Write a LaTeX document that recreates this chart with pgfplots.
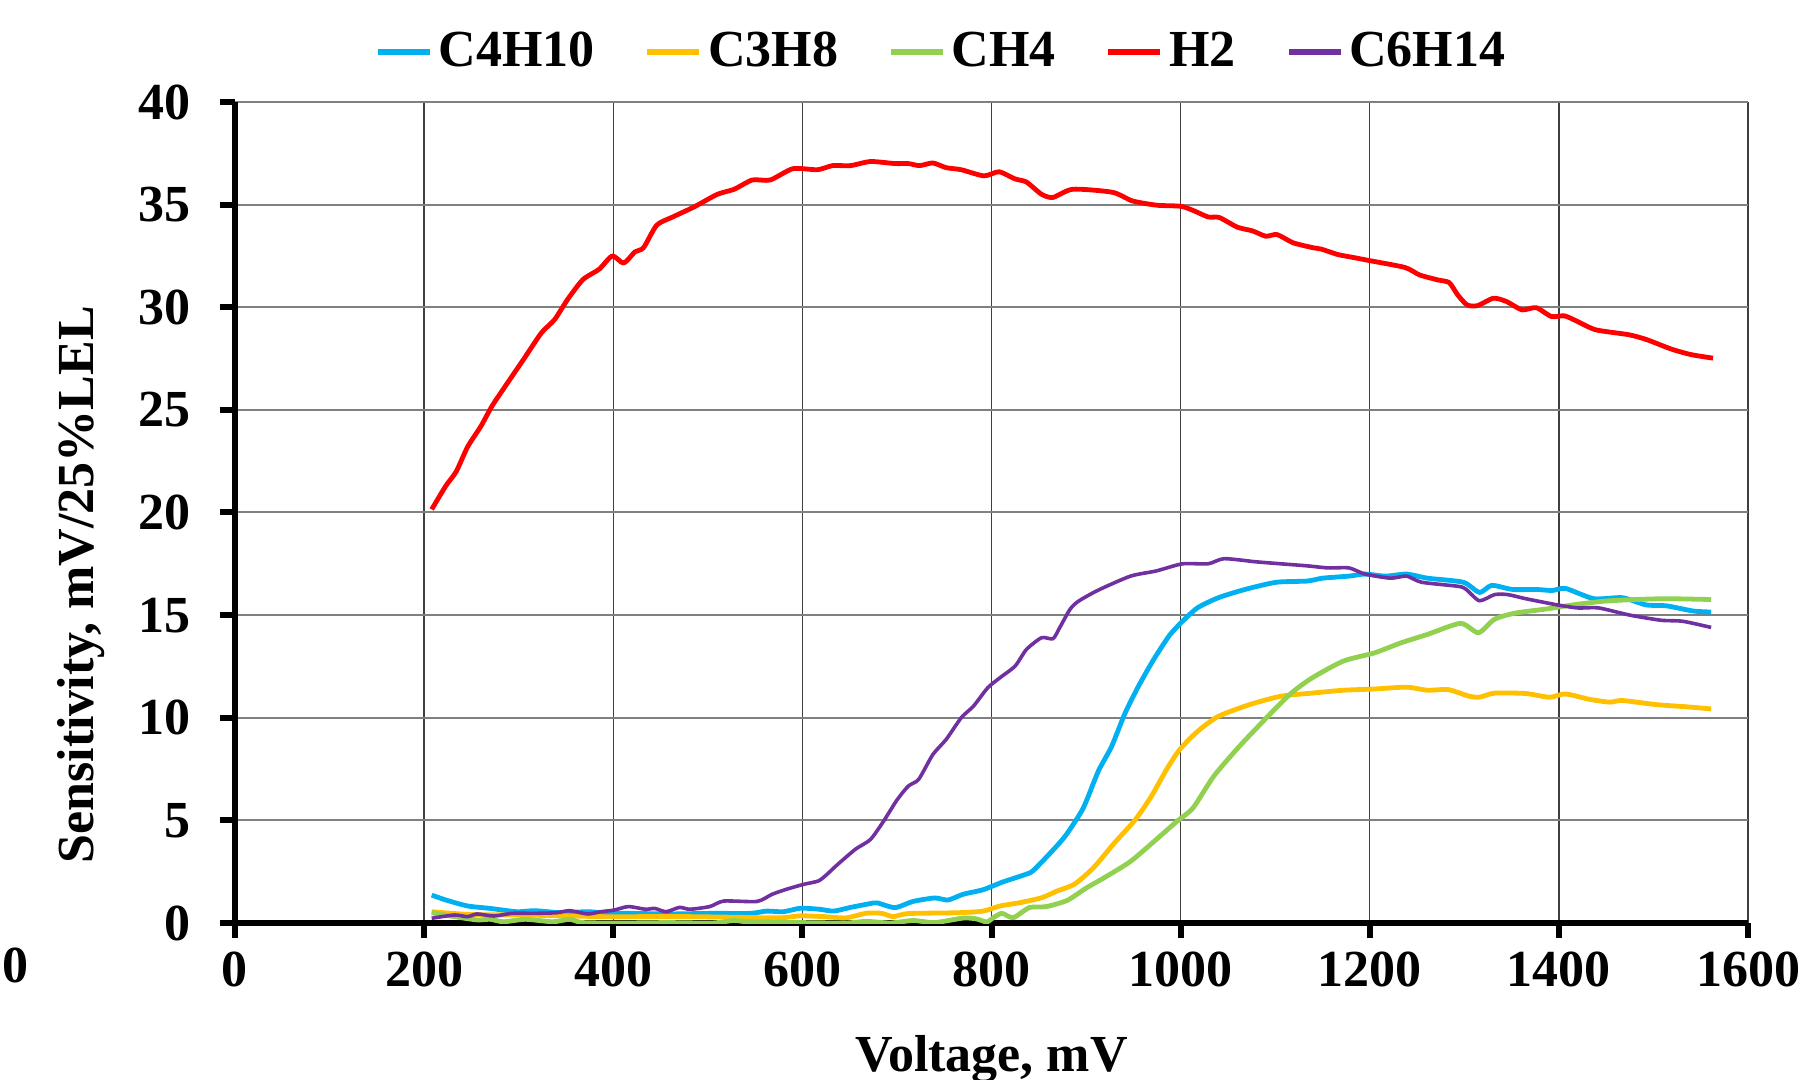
\documentclass[border=0pt]{standalone}
\usepackage{fontspec}
\setmainfont{Liberation Serif}
\usepackage{pgfplots}
\pgfplotsset{compat=1.18}
\definecolor{cbutane}{HTML}{00B0F0}
\definecolor{cpropane}{HTML}{FFC000}
\definecolor{cmethane}{HTML}{92D050}
\definecolor{chydro}{HTML}{FF0000}
\definecolor{chexane}{HTML}{7030A0}
\newcommand{\chartfont}{\fontsize{13}{15}\selectfont\bfseries}

\pgfplotstableread{
x y
208 1.36
223 1.12
246 0.83
270 0.71
298 0.55
317 0.60
345 0.50
373 0.55
397 0.47
420 0.47
458 0.44
505 0.47
545 0.47
562 0.58
580 0.55
598 0.72
618 0.67
633 0.58
650 0.75
670 0.93
679 0.98
698 0.75
717 1.05
740 1.22
754 1.12
770 1.40
791 1.62
812 2.0
835 2.35
844 2.55
865 3.55
879 4.3
897 5.6
913 7.4
927 8.6
941 10.2
955 11.5
971 12.8
988 14.0
1002 14.7
1018 15.36
1040 15.85
1068 16.25
1101 16.6
1134 16.66
1150 16.8
1178 16.9
1195 17.0
1217 16.9
1239 17.0
1261 16.8
1299 16.6
1316 16.1
1329 16.45
1351 16.25
1376 16.25
1393 16.2
1407 16.3
1437 15.8
1467 15.85
1492 15.5
1514 15.45
1542 15.2
1561 15.15
}\butane

\pgfplotstableread{
x y
208 0.55
246 0.42
293 0.39
340 0.36
387 0.31
434 0.31
481 0.31
528 0.28
576 0.25
598 0.35
623 0.31
646 0.25
668 0.48
684 0.47
696 0.31
712 0.46
764 0.50
791 0.58
809 0.83
830 0.99
853 1.23
869 1.55
888 1.9
908 2.7
930 3.9
952 5.03
969 6.17
985 7.47
999 8.45
1018 9.34
1040 10.07
1073 10.64
1106 11.05
1139 11.2
1172 11.34
1205 11.4
1239 11.49
1261 11.34
1283 11.37
1305 11.05
1316 11.0
1332 11.2
1365 11.18
1390 11.0
1407 11.16
1432 10.9
1454 10.76
1467 10.84
1503 10.64
1536 10.53
1561 10.43
}\propane

\pgfplotstableread{
x y
208 0.50
232 0.31
256 0.15
270 0.18
284 0.06
307 0.18
336 0.06
354 0.18
368 0.02
411 0.0
458 0.02
505 0.0
527 0.12
543 0.06
599 0.02
646 0.0
668 0.08
693 0.0
717 0.12
740 0.02
770 0.24
784 0.2
795 0.05
802 0.26
811 0.47
823 0.26
840 0.75
858 0.80
880 1.1
900 1.7
919 2.2
947 3.0
974 4.06
996 4.95
1013 5.6
1035 7.15
1062 8.6
1095 10.2
1117 11.2
1139 11.94
1172 12.76
1205 13.16
1233 13.65
1261 14.06
1296 14.6
1315 14.14
1332 14.8
1354 15.1
1387 15.3
1415 15.5
1448 15.68
1481 15.76
1514 15.8
1561 15.76
}\methane

\pgfplotstableread{
x y
208 20.15
223 21.3
234 22.0
246 23.2
260 24.2
272 25.2
288 26.3
305 27.45
324 28.75
338 29.4
352 30.4
368 31.35
385 31.85
399 32.5
411 32.15
423 32.7
432 32.9
446 34.0
463 34.4
486 34.9
510 35.5
528 35.75
547 36.2
566 36.2
590 36.75
616 36.7
632 36.9
651 36.9
672 37.1
698 37.0
712 37.0
724 36.9
738 37.03
752 36.8
768 36.7
792 36.4
808 36.6
825 36.25
837 36.1
853 35.5
865 35.35
886 35.75
928 35.6
949 35.18
975 34.97
1000 34.92
1013 34.72
1029 34.4
1041 34.37
1060 33.9
1076 33.72
1090 33.46
1102 33.54
1119 33.14
1140 32.9
1149 32.83
1166 32.57
1182 32.43
1200 32.27
1237 31.94
1253 31.57
1272 31.33
1284 31.2
1293 30.6
1303 30.11
1314 30.08
1331 30.44
1345 30.27
1361 29.87
1376 29.98
1392 29.55
1406 29.58
1420 29.3
1439 28.9
1474 28.66
1493 28.42
1519 27.96
1540 27.69
1563 27.52
}\hydrogen

\pgfplotstableread{
x y
208 0.23
232 0.39
246 0.31
256 0.44
274 0.34
293 0.47
317 0.47
340 0.50
354 0.60
373 0.44
387 0.55
401 0.63
416 0.80
434 0.67
444 0.71
456 0.55
470 0.76
481 0.67
502 0.80
517 1.07
552 1.05
568 1.4
583 1.64
601 1.88
617 2.05
626 2.37
636 2.8
656 3.59
672 4.07
686 4.97
700 5.99
712 6.67
723 7.0
738 8.21
752 8.94
768 10.0
781 10.57
796 11.46
809 11.95
825 12.52
837 13.33
853 13.9
865 13.85
872 14.38
883 15.28
892 15.68
913 16.22
947 16.9
974 17.15
1002 17.5
1029 17.5
1046 17.75
1079 17.6
1106 17.5
1134 17.4
1156 17.3
1178 17.3
1195 17.0
1222 16.8
1239 16.9
1255 16.6
1294 16.4
1302 16.25
1316 15.7
1332 16.0
1346 16.0
1365 15.8
1398 15.5
1420 15.35
1442 15.35
1475 15.0
1508 14.75
1531 14.7
1561 14.4
}\hexane

\begin{document}
\begin{tikzpicture}
\useasboundingbox (0,0) rectangle (454.5pt,270pt);
\begin{axis}[
  at={(58.75pt,39.25pt)}, anchor=south west,
  scale only axis, width=378.25pt, height=205.25pt,
  xmin=0, xmax=1600, ymin=0, ymax=40,
  xtick={0,200,...,1600}, ytick={0,5,...,40},
  axis x line*=bottom, axis y line*=left,
  axis line style={line width=1.6pt, black},
  tick align=outside, major tick length=3.75pt,
  tick style={line width=1.5pt, black},
  grid=major,
  x grid style={black!75, line width=0.35pt},
  y grid style={black!50, line width=0.5pt},
  /pgf/number format/assume math mode=true,
  /pgf/number format/1000 sep={},
  ticklabel style={font=\chartfont},
  yticklabel style={xshift=-3.75pt},
  label style={font=\chartfont},
  xlabel={Voltage, mV},
  ylabel={Sensitivity, mV/25\%LEL},
  xlabel style={at={(axis description cs:0.5,-0.181)}, anchor=base},
  ylabel style={at={(axis description cs:-0.102,0.412)}, anchor=center},
  legend style={at={(0.468,1.061)}, anchor=center, draw=none, fill=none,
    font=\chartfont, legend columns=-1,
    nodes={inner xsep=1.5pt},
    /tikz/every even column/.append style={column sep=11pt}},
  legend image code/.code={\draw[#1, line width=1.4pt] (0pt,0pt) -- (13pt,0pt);},
  every axis plot/.append style={line width=1.2pt, line join=round, smooth, tension=0.4},
]
\addplot[cbutane] table {\butane};
\addlegendentry{C4H10}
\addplot[cpropane] table {\propane};
\addlegendentry{C3H8}
\addplot[cmethane] table {\methane};
\addlegendentry{CH4}
\addplot[chydro] table {\hydrogen};
\addlegendentry{H2}
\addplot[chexane, line width=0.9pt] table {\hexane};
\addlegendentry{C6H14}
\end{axis}
\node[anchor=base east, font=\chartfont, inner sep=0pt] at (7.25pt,24.25pt) {00};
\end{tikzpicture}
\end{document}
